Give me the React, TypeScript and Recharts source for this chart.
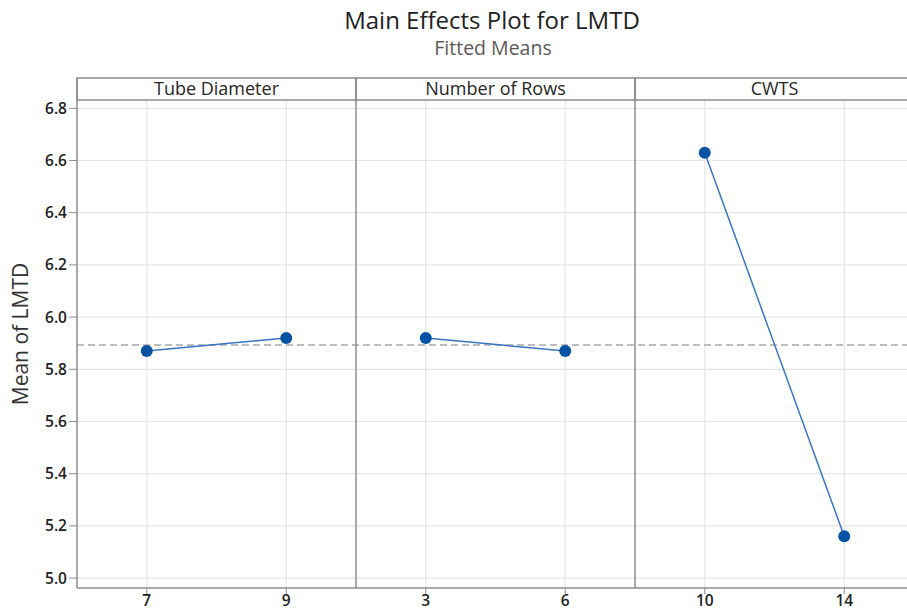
import React from "react";
import {
  ComposedChart,
  Line,
  XAxis,
  YAxis,
  CartesianGrid,
  ReferenceLine,
  ReferenceArea,
} from "recharts";

// Factor panels and their fitted means
const factorNames = ["Tube Diameter", "Number of Rows", "CWTS"];
const tubeDiameterLevels = ["7", "9"];
const tubeDiameterMeans = [5.87, 5.92];
const numberOfRowsLevels = ["3", "6"];
const numberOfRowsMeans = [5.92, 5.87];
const cwtsLevels = ["10", "14"];
const cwtsMeans = [6.63, 5.16];
const grandMean = 5.893;
const yTicks = [5.0, 5.2, 5.4, 5.6, 5.8, 6.0, 6.2, 6.4, 6.6, 6.8];

const panelLevels = [tubeDiameterLevels, numberOfRowsLevels, cwtsLevels];
const panelMeans = [tubeDiameterMeans, numberOfRowsMeans, cwtsMeans];

// Each panel spans two x units; its levels sit at the quarter points.
const panelSeries = panelMeans.map((means, p) =>
  means.map((m, j) => ({ x: p * 2 + 0.5 + j, y: m }))
);
const xTicks = panelLevels.flatMap((lv, p) => lv.map((_, j) => p * 2 + 0.5 + j));
const xTickLabels = panelLevels.flat();

const Y_MIN = 4.962;
const Y_HEADER = 6.832;
const Y_MAX = 6.916;

const FONT = "'Open Sans', 'Noto Sans', sans-serif";
const AXIS_GREY = "#8c8c8c";
const LINE_BLUE = "#3a74c4";
const DOT_BLUE = "#0653a6";

export default function App() {
  return (
    <div style={{ width: 907, height: 613, overflow: "hidden", position: "relative", background: "#fff" }}>
      <style>{`body{margin:0;}`}</style>
      <ComposedChart
        width={907}
        height={613}
        margin={{ top: 78, right: -7, bottom: 0, left: 0 }}
        style={{ fontFamily: FONT }}
      >
        <CartesianGrid stroke="#e6e6e6" strokeWidth={1.2} horizontalValues={yTicks} verticalValues={xTicks} />
        <XAxis
          type="number"
          dataKey="x"
          domain={[0, 6]}
          ticks={xTicks}
          allowDataOverflow
          height={25}
          tickSize={6}
          tickMargin={1}
          tickFormatter={(v: number) => xTickLabels[xTicks.indexOf(v)] ?? ""}
          tick={{ fill: "#222", fontSize: 15.5, fontWeight: 600 }}
          axisLine={{ stroke: AXIS_GREY, strokeWidth: 1.5 }}
          tickLine={{ stroke: AXIS_GREY }}
        />
        <YAxis
          type="number"
          domain={[Y_MIN, Y_MAX]}
          ticks={yTicks}
          allowDataOverflow
          width={77}
          tickSize={8}
          tickMargin={2}
          tickFormatter={(v: number) => v.toFixed(1)}
          tick={{ fill: "#222", fontSize: 15.5, fontWeight: 600 }}
          axisLine={{ stroke: AXIS_GREY, strokeWidth: 1.5 }}
          tickLine={{ stroke: AXIS_GREY }}
        />
        <ReferenceLine
          y={grandMean}
          stroke="#a9a9a9"
          strokeWidth={1.3}
          strokeDasharray="7 4"
        />
        {factorNames.map((name, p) => (
          <ReferenceArea
            key={name}
            x1={p * 2}
            x2={p * 2 + 2}
            y1={Y_HEADER}
            y2={Y_MAX}
            fill="#fff"
            fillOpacity={1}
            stroke={AXIS_GREY}
            strokeWidth={1.5}
            label={{ value: name, position: "center", fill: "#262626", fontSize: 18, fontWeight: 500, fontFamily: FONT }}
          />
        ))}
        <ReferenceLine x={2} stroke={AXIS_GREY} strokeWidth={1.5} />
        <ReferenceLine x={4} stroke={AXIS_GREY} strokeWidth={1.5} />
        {panelSeries.map((series, p) => (
          <Line
            key={factorNames[p]}
            data={series}
            dataKey="y"
            type="linear"
            stroke={LINE_BLUE}
            strokeWidth={1.5}
            dot={{ r: 6, fill: DOT_BLUE, stroke: DOT_BLUE, strokeWidth: 0 }}
            activeDot={false}
            isAnimationActive={false}
          />
        ))}
        <text x={492} y={29} textAnchor="middle" fontSize={24} fontWeight={500} fill="#222" fontFamily={FONT}>
          Main Effects Plot for LMTD
        </text>
        <text x={493} y={55} textAnchor="middle" fontSize={19.5} fill="#5a5a5a" fontFamily={FONT}>
          Fitted Means
        </text>
        <text
          x={28}
          y={334}
          textAnchor="middle"
          fontSize={21}
          fill="#333"
          fontFamily={FONT}
          transform="rotate(-90 28 334)"
        >
          Mean of LMTD
        </text>
      </ComposedChart>
    </div>
  );
}
